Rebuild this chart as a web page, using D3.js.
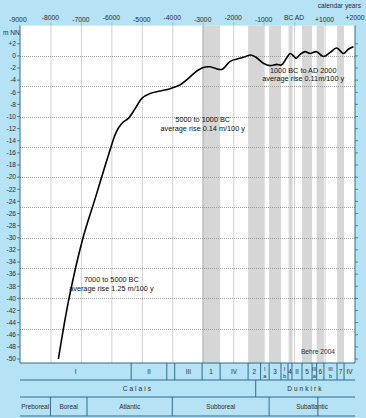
<!DOCTYPE html>
<html><head><meta charset="utf-8">
<script src="https://cdn.jsdelivr.net/npm/d3@7"></script>
<style>
html,body{margin:0;padding:0;background:#b6e2f5;}
svg{display:block;font-family:"Liberation Sans",Arial,sans-serif;}
</style></head>
<body>
<svg id="chart" width="366" height="418"></svg>
<script>
// ---- data ----
const years = [-7800,-7740,-7390,-6930,-6530,-6320,-6010,-5900,-5770,-5610,-5440,-5220,-5000,-4730,-4400,-4070,-3750,-3470,-3250,-3100,-2980,-2760,-2500,-2350,-2100,-1780,-1610,-1420,-1230,-1010,-790,-570,-420,-240,-130,-20,70,190,360,520,740,960,1180,1400,1620,1780,1950];
const seaLevel = [-52,-50,-40,-30,-23.5,-20,-15,-13.3,-11.9,-10.9,-10.3,-8.7,-7.0,-6.2,-5.8,-5.4,-4.8,-3.7,-2.7,-2.2,-1.9,-1.8,-2.2,-2.2,-0.9,-0.4,-0.15,0.15,-0.3,-1.2,-1.6,-1.4,-1.5,-0.3,0.4,0,-0.4,0.2,0.7,0.4,0.7,-0.1,0.55,1.3,0.4,1.1,1.5];
const xTicks = [-9000,-8000,-7000,-6000,-5000,-4000,-3000,-2000,-1000,0,1000,2000];
const xTickLabels = ["-9000","-8000","-7000","-6000","-5000","-4000","-3000","-2000","-1000","BC AD","+1000","+2000"];
const yTicks = d3.range(2,-51,-2);
const bandStart = [-3020,-1510,-820,-180,260,740,1410];
const bandEnd   = [-2430,-1000,-430,-50,590,980,1640];
const row1Bounds = [-9000,-5350,-4180,-3920,-3020,-2430,-1510,-1100,-820,-430,-200,-70,260,590,740,980,1410,1640,2000];
const row1Labels = ["I","II","","III","1","IV","2","I|a","3","I|b","4","II","5","III|a","6","III|b","7","IV"];
const row2Bounds = [-9000,-1260,2000];
const row2Labels = ["Calais","Dunkirk"];
const row3Bounds = [-9000,-8000,-6800,-4000,-820,2000];
const row3Labels = ["Preboreal","Boreal","Atlantic","Subboreal","Subatlantic"];
const row3Extra = [780];
const notes = [
  {t1:"7000 to 5000 BC", t2:"average rise 1.25 m/100 y", year:-6000, v:-37.3},
  {t1:"5000 to 1000 BC", t2:"average rise 0.14 m/100 y", year:-3000, v:-10.9},
  {t1:"1000 BC to AD 2000", t2:"average rise 0.11m/100 y", year:300, v:-2.8}
];

// ---- drawing ----
const svg = d3.select("#chart");
const x = d3.scaleLinear().domain([-9000,2000]).range([20,355]);
const y = d3.scaleLinear().domain([-50,5]).range([359,25.6]);
const plotBottom = 363;
const txt = "#2b2b2b";
const lineCol = "#2e6c8c";

svg.append("rect").attr("x",x(-9000)).attr("y",y(5)).attr("width",x(2000)-x(-9000)).attr("height",plotBottom-y(5)).attr("fill","#fff");

// bands
svg.append("g").selectAll("rect").data(bandStart).join("rect")
  .attr("x",(d)=>x(d)).attr("y",y(5))
  .attr("width",(d,i)=>x(bandEnd[i])-x(d)).attr("height",plotBottom-y(5))
  .attr("fill","#d6d6d6");

// grid
const grid = svg.append("g").attr("stroke","#8a8a8a").attr("stroke-width",0.8).attr("stroke-dasharray","1,1");
grid.selectAll("line.v").data(xTicks.slice(1,-1)).join("line").attr("class","v")
  .attr("x1",d=>x(d)+0.5).attr("x2",d=>x(d)+0.5).attr("y1",y(5)-3).attr("y2",plotBottom);
grid.selectAll("line.h").data(d3.range(0,-50,-5)).join("line").attr("class","h")
  .attr("x1",x(-9000)).attr("x2",x(2000)).attr("y1",d=>Math.round(y(d))+0.5).attr("y2",d=>Math.round(y(d))+0.5);

// curve
const clipId="clipPlot";
svg.append("clipPath").attr("id",clipId).append("rect")
  .attr("x",x(-9000)).attr("y",y(5)).attr("width",x(2000)-x(-9000)).attr("height",y(-50)-y(5));
const line = d3.line().x((d,i)=>x(years[i])).y((d,i)=>y(seaLevel[i])).curve(d3.curveCatmullRom.alpha(0.5));
svg.append("path").attr("clip-path",`url(#${clipId})`).attr("d",line(years)).attr("fill","none").attr("stroke","#000").attr("stroke-width",1.6);

// axes lines
svg.append("line").attr("x1",x(-9000)).attr("x2",x(-9000)).attr("y1",y(5)).attr("y2",plotBottom).attr("stroke",lineCol).attr("stroke-width",1);
svg.append("line").attr("x1",x(2000)).attr("x2",x(2000)).attr("y1",y(5)).attr("y2",plotBottom).attr("stroke",lineCol).attr("stroke-width",1);

// y ticks
const yt = svg.append("g");
yt.selectAll("line.l").data(yTicks).join("line").attr("class","l")
  .attr("x1",x(-9000)-3).attr("x2",x(-9000)).attr("y1",d=>y(d)).attr("y2",d=>y(d)).attr("stroke",lineCol).attr("stroke-width",0.8);
yt.selectAll("line.r").data(yTicks).join("line").attr("class","r")
  .attr("x1",x(2000)).attr("x2",x(2000)+3).attr("y1",d=>y(d)).attr("y2",d=>y(d)).attr("stroke",lineCol).attr("stroke-width",0.8);
yt.selectAll("text").data(yTicks).join("text")
  .attr("x",x(-9000)-4).attr("y",d=>y(d)).attr("dy","0.35em").attr("text-anchor","end")
  .attr("font-size",6.6).attr("fill",txt)
  .text(d=>d>0?"+"+d:String(d));
svg.append("text").attr("x",3).attr("y",35).attr("font-size",6.6).attr("fill",txt).text("m NN");

// x labels top
svg.append("g").selectAll("text").data(xTicks).join("text")
  .attr("x",(d,i)=>x(d)+(i===0?-2:0)).attr("y",(d,i)=>i%2===0?21.5:19.5)
  .attr("text-anchor","middle").attr("font-size",6.8).attr("fill",txt)
  .text((d,i)=>xTickLabels[i]);
svg.append("text").attr("x",361).attr("y",8).attr("text-anchor","end").attr("font-size",6.6).attr("fill",txt).text("calendar years");

// notes
const ng = svg.append("g").attr("font-size",7.3).attr("fill","#111").attr("text-anchor","middle");
notes.forEach(n=>{
  ng.append("text").attr("x",x(n.year)).attr("y",y(n.v)).text(n.t1);
  ng.append("text").attr("x",x(n.year)).attr("y",y(n.v)+8.6).text(n.t2);
});
svg.append("text").attr("x",318).attr("y",354).attr("text-anchor","middle").attr("font-size",6.6).attr("fill",txt).text("Behre 2004");

// table
const rowY = [363,380,397,416];
const tg = svg.append("g");
tg.selectAll("line.h").data(rowY).join("line").attr("class","h")
  .attr("x1",x(-9000)).attr("x2",x(2000)).attr("y1",d=>d).attr("y2",d=>d).attr("stroke",lineCol).attr("stroke-width",1);
function row(bounds, labels, y0, y1, opts){
  const g = tg.append("g");
  g.selectAll("line").data(bounds.slice(1,-1)).join("line")
    .attr("x1",d=>x(d)).attr("x2",d=>x(d)).attr("y1",y0).attr("y2",y1).attr("stroke",lineCol).attr("stroke-width",1);
  labels.forEach((lab,i)=>{
    const cx = (x(bounds[i])+x(bounds[i+1]))/2;
    if(lab.includes("|")){
      const [a,b] = lab.split("|");
      g.append("text").attr("x",cx).attr("y",y0+7.5).attr("text-anchor","middle").attr("font-size",5.6).attr("fill",txt).text(a);
      g.append("text").attr("x",cx).attr("y",y0+14.5).attr("text-anchor","middle").attr("font-size",5.6).attr("fill",txt).text(b);
    } else {
      g.append("text").attr("x",cx).attr("y",(y0+y1)/2).attr("dy","0.35em").attr("text-anchor","middle")
        .attr("font-size",opts.fs).attr("letter-spacing",opts.ls||0).attr("fill",txt).text(lab);
    }
  });
  return g;
}
row(row1Bounds,row1Labels,rowY[0],rowY[1],{fs:6.4});
row(row2Bounds,row2Labels,rowY[1],rowY[2],{fs:6.6,ls:2});
const r3 = row(row3Bounds,row3Labels,rowY[2],rowY[3],{fs:6.4});
r3.selectAll("line.extra").data(row3Extra).join("line").attr("class","extra")
  .attr("x1",d=>x(d)).attr("x2",d=>x(d)).attr("y1",rowY[2]).attr("y2",rowY[3]).attr("stroke",lineCol).attr("stroke-width",1);
</script>
</body></html>
